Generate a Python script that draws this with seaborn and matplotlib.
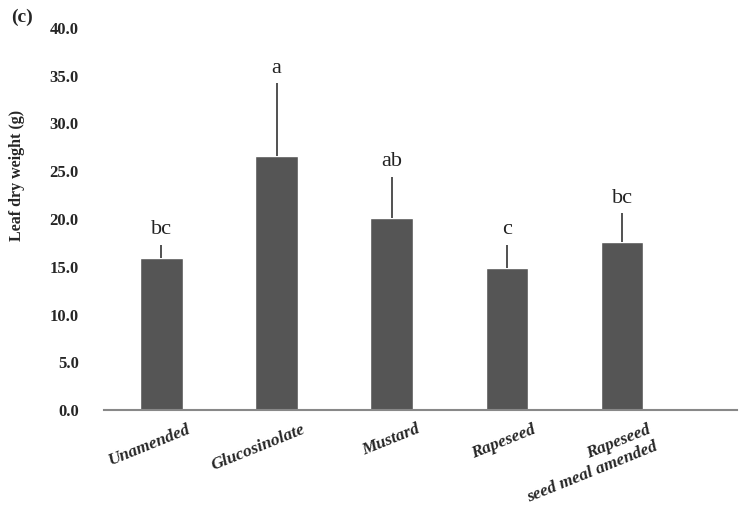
import numpy as np
import pandas as pd
import matplotlib
matplotlib.use("Agg")
import matplotlib.pyplot as plt
import matplotlib.transforms as mtransforms
import seaborn as sns

# --- data ---
treatments = ["Unamended", "Glucosinolate", "Mustard", "Rapeseed", "Rapeseed\nseed meal amended"]
means = [15.9, 26.6, 20.1, 14.9, 17.6]
errors = [1.4, 7.6, 4.3, 2.4, 3.0]
letters = ["bc", "a", "ab", "c", "bc"]
yticks = [0, 5, 10, 15, 20, 25, 30, 35, 40]

df = pd.DataFrame({"treatment": treatments, "mean": means})

sns.set_style("white")
plt.rcParams["font.family"] = ["Liberation Serif", "DejaVu Serif"]

fig = plt.figure(figsize=(7.41, 5.07), dpi=100)
ax = fig.add_axes([0.14, 0.191, 0.855, 0.754])

sns.barplot(data=df, x="treatment", y="mean", color="#555555", width=0.37,
            saturation=1, ax=ax)

x = np.arange(len(treatments))
ax.errorbar(x, means, yerr=[np.zeros(len(errors)), errors], fmt="none",
            ecolor="#333333", elinewidth=1.2, capsize=0)

for xi, m, e, lab in zip(x, means, errors, letters):
    ax.text(xi, m + e + 0.6, lab, ha="center", va="bottom",
            fontsize=16, color="#222222")

ax.set_xlim(-0.5, 5.0)
ax.set_ylim(0, 40)
ax.set_yticks(yticks)
ax.set_yticklabels([f"{v:.1f}" for v in yticks], fontsize=12, fontweight="bold")
ax.tick_params(axis="y", length=0, pad=18)
ax.tick_params(axis="x", length=0, pad=8)

# shift rotated labels a little to the right, like the scan
shift = mtransforms.ScaledTranslation(0.25, 0, fig.dpi_scale_trans)
for lbl in ax.get_xticklabels():
    lbl.set_rotation(22)
    lbl.set_ha("right")
    lbl.set_rotation_mode("anchor")
    lbl.set_fontsize(12.5)
    lbl.set_fontweight("bold")
    lbl.set_style("italic")
    lbl.set_transform(lbl.get_transform() + shift)

for s in ["top", "right", "left"]:
    ax.spines[s].set_visible(False)
ax.spines["bottom"].set_color("#888888")
ax.spines["bottom"].set_linewidth(1.5)

ax.set_xlabel("")
ax.set_ylabel("Leaf dry weight (g)", fontsize=11.5, fontweight="bold")
ax.yaxis.set_label_coords(-0.125, 0.615)

fig.text(0.015, 0.965, "(c)", fontsize=14, fontweight="bold", va="center")

fig.savefig("out.png", dpi=100)
